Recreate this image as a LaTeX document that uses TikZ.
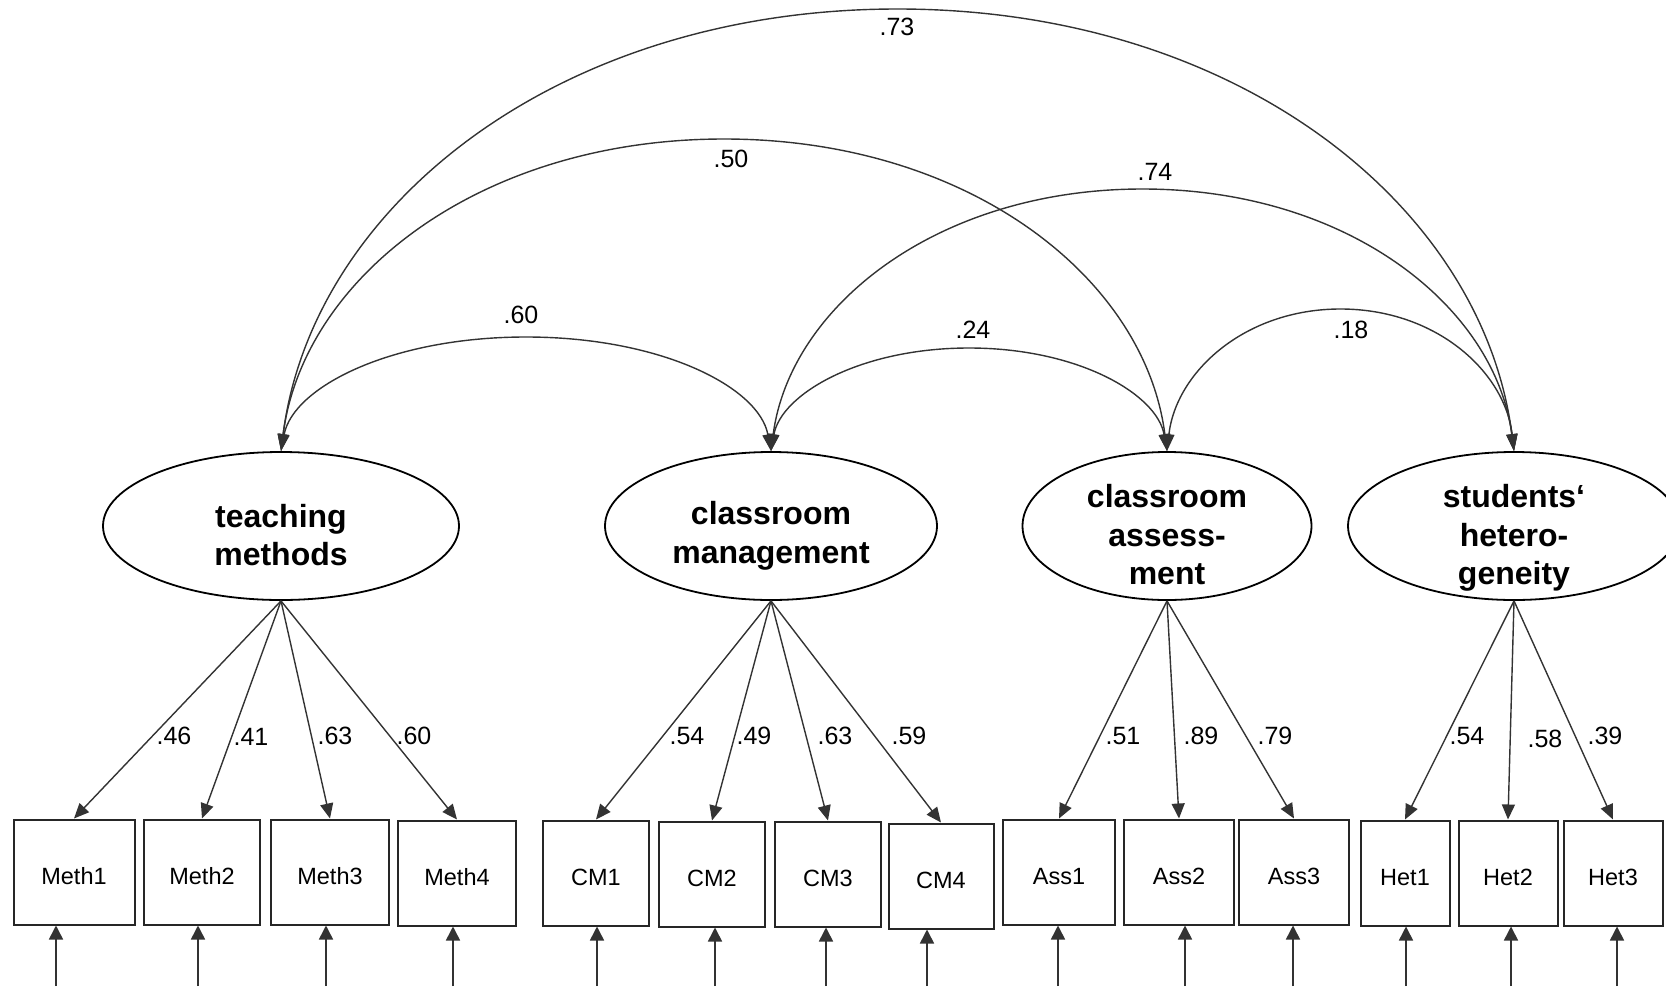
\documentclass[tikz,border=0pt]{standalone}
\usepackage{fontspec}
\setmainfont{Liberation Sans}
\usetikzlibrary{shapes.geometric,arrows.meta}
\begin{document}
\begin{tikzpicture}[x=1pt,y=-1pt,
  latent/.style={ellipse,draw=black,line width=1.8pt,minimum height=148pt,inner sep=0pt},
  lattext/.style={font=\fontsize{32}{38.5}\selectfont\bfseries,align=center,inner sep=0pt},
  obs/.style={rectangle,draw=black!85,line width=2pt,minimum height=105pt,inner sep=0pt,
    text height=25pt,text depth=0pt,font=\fontsize{23.5}{28}\selectfont},
  load/.style={draw=black!80,line width=1.4pt,-{Triangle[length=15pt,width=13pt]}},
  corr/.style={draw=black!80,line width=1.4pt,{Triangle[length=17pt,width=11pt]}-{Triangle[length=17pt,width=11pt]}},
  err/.style={draw=black!80,line width=1.6pt,-{Triangle[length=14pt,width=14pt]}},
  lbl/.style={font=\fontsize{25}{30}\selectfont,inner sep=0pt},
]
\useasboundingbox (0,0) rectangle (1666,991);

% latent variables
\node[latent,minimum width=356pt] (tm) at (281,526) {};
\node[latent,minimum width=332pt] (cm) at (771,526) {};
\node[latent,minimum width=289pt] (ca) at (1167,526) {};
\node[latent,minimum width=332pt] (sh) at (1514,526) {};
\node[lattext] (tmt) at (281,535) {teaching\\methods};
\node[lattext] (cmt) at (771,536) {classroom\\management};
\node[lattext] (cat) at (1167,535) {classroom\\assess-\\ment};
\node[lattext] (sht) at (1514,538) {students‘\\hetero-\\geneity};

% observed variables
\node[obs,minimum width=121pt] (m1) at (74,872) {Meth1};
\node[obs,minimum width=116pt] (m2) at (202,872) {Meth2};
\node[obs,minimum width=118pt] (m3) at (330,872) {Meth3};
\node[obs,minimum width=118pt] (m4) at (457,873) {Meth4};
\node[obs,minimum width=106pt] (c1) at (596,873) {CM1};
\node[obs,minimum width=106pt] (c2) at (712,874) {CM2};
\node[obs,minimum width=106pt] (c3) at (828,874) {CM3};
\node[obs,minimum width=105pt] (c4) at (941,876) {CM4};
\node[obs,minimum width=112pt] (a1) at (1059,872) {Ass1};
\node[obs,minimum width=110pt] (a2) at (1179,872) {Ass2};
\node[obs,minimum width=110pt] (a3) at (1294,872) {Ass3};
\node[obs,minimum width=89pt] (h1) at (1405,873) {Het1};
\node[obs,minimum width=99pt] (h2) at (1508,873) {Het2};
\node[obs,minimum width=99pt] (h3) at (1613,873) {Het3};

% loadings
\draw[load] (tm.south) -- (m1.north);
\draw[load] (tm.south) -- (m2.north);
\draw[load] (tm.south) -- (m3.north);
\draw[load] (tm.south) -- (m4.north);
\draw[load] (cm.south) -- (c1.north);
\draw[load] (cm.south) -- (c2.north);
\draw[load] (cm.south) -- (c3.north);
\draw[load] (cm.south) -- (c4.north);
\draw[load] (ca.south) -- (a1.north);
\draw[load] (ca.south) -- (a2.north);
\draw[load] (ca.south) -- (a3.north);
\draw[load] (sh.south) -- (h1.north);
\draw[load] (sh.south) -- (h2.north);
\draw[load] (sh.south) -- (h3.north);

\node[lbl] (lm1) at (174,736) {.46};
\node[lbl] (lm2) at (251,737) {.41};
\node[lbl] (lm3) at (335,736) {.63};
\node[lbl] (lm4) at (414,736) {.60};
\node[lbl] (lc1) at (687,736) {.54};
\node[lbl] (lc2) at (754,736) {.49};
\node[lbl] (lc3) at (835,736) {.63};
\node[lbl] (lc4) at (909,736) {.59};
\node[lbl] (la1) at (1123,736) {.51};
\node[lbl] (la2) at (1201,736) {.89};
\node[lbl] (la3) at (1275,736) {.79};
\node[lbl] (lh1) at (1467,736) {.54};
\node[lbl] (lh2) at (1545,739) {.58};
\node[lbl] (lh3) at (1605,736) {.39};

% error terms
\foreach \n/\x in {m1/56,m2/198,m3/326,m4/453,c1/597,c2/715,c3/826,c4/927,a1/1058,a2/1185,a3/1293,h1/1406,h2/1511,h3/1617}{
  \coordinate (e\n) at (\x,986);
  \draw[err] (e\n) -- (e\n |- \n.south);
}

% correlation apexes
\coordinate (p73) at (897.5,9);
\coordinate (p50) at (724,139);
\coordinate (p74) at (1142.5,189);
\coordinate (p60) at (526,337);
\coordinate (p24) at (969,348);
\coordinate (p18) at (1340.5,309);

% correlations
\draw[corr] (tm.north) .. controls +(31,-245) and +(-340,0) .. (p73)
                       .. controls +(340,0) and +(-31,-245) .. (sh.north);
\draw[corr] (tm.north) .. controls +(22,-173) and +(-245,0) .. (p50)
                       .. controls +(245,0) and +(-22,-173) .. (ca.north);
\draw[corr] (cm.north) .. controls +(19,-145) and +(-205,0) .. (p74)
                       .. controls +(205,0) and +(-19,-145) .. (sh.north);
\draw[corr] (tm.north) .. controls +(12,-64) and +(-135,0) .. (p60)
                       .. controls +(135,0) and +(-12,-64) .. (cm.north);
\draw[corr] (cm.north) .. controls +(10,-57) and +(-109,0) .. (p24)
                       .. controls +(109,0) and +(-10,-57) .. (ca.north);
\draw[corr] (ca.north) .. controls +(9,-79) and +(-96,0) .. (p18)
                       .. controls +(96,0) and +(-9,-79) .. (sh.north);

\node[lbl] (r73) at (897,27) {.73};
\node[lbl] (r50) at (731,159) {.50};
\node[lbl] (r74) at (1155,172) {.74};
\node[lbl] (r60) at (521,315) {.60};
\node[lbl] (r24) at (973,330) {.24};
\node[lbl] (r18) at (1351,330) {.18};
\end{tikzpicture}
\end{document}
